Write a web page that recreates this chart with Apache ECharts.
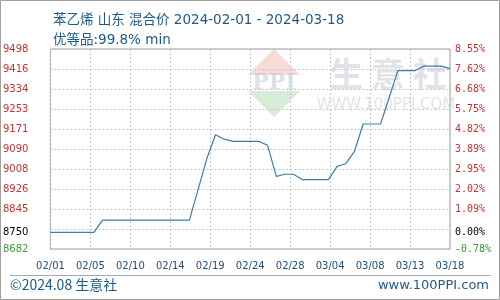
<!DOCTYPE html>
<html><head><meta charset="utf-8">
<script src="https://cdn.jsdelivr.net/npm/echarts@6/dist/echarts.min.js"></script>
<style>html,body{margin:0;padding:0;background:#fff}#c{width:500px;height:300px}</style>
</head><body><div id="c"></div>
<script>
const dates = ['02/01','02/02','02/03','02/04','02/05','02/06','02/07','02/08','02/09','02/10',
  '02/11','02/12','02/13','02/14','02/15','02/16','02/17','02/18','02/19','02/20',
  '02/21','02/22','02/23','02/24','02/25','02/26','02/27','02/28','02/29','03/01',
  '03/02','03/03','03/04','03/05','03/06','03/07','03/08','03/09','03/10','03/11',
  '03/12','03/13','03/14','03/15','03/16','03/17','03/18'];
const prices = [8750,8750,8750,8750,8750,8750,8800,8800,8800,8800,
  8800,8800,8800,8800,8800,8800,8800,8925,9050,9148,
  9130,9121,9121,9121,9121,9105,8978,8987,8987,8965,
  8965,8965,8965,9019,9030,9080,9192,9192,9192,9300,
  9410,9410,9410,9428,9428,9428,9418];
const basePrice = 8750;
const yMin = 8682, yMax = 9498, yStep = 81.6;
const xStep = 4.6;
const titleLines = ['苯乙烯 山东 混合价 2024-02-01 - 2024-03-18', '优等品:99.8% min'];
const footerLeft = '©2024.08 生意社';
const footerRight = 'www.100PPI.com';

const gridTicks = [];
for (let k = 0; k <= 10; k++) gridTicks.push(+(yMin + k * yStep).toFixed(1));
const labelTicks = gridTicks.map((v, i) => i === 1 ? basePrice : v);

const seriesData = prices.map((p, i) => [i, p]);
const txt = '#1d5a88';
function labColor(v) {
  v = Number(v);
  if (Math.abs(v - basePrice) < 1e-6) return '#000';
  return v < basePrice ? '#3a9a3a' : '#c83232';
}

const chart = echarts.init(document.getElementById('c'), null, {renderer: 'canvas'});
chart.setOption({
  animation: false,
  backgroundColor: '#fff',
  title: {
    text: titleLines.join('\n'), left: 48, top: 5,
    textStyle: {fontFamily: '"DejaVu Sans", "Noto Sans CJK SC"', fontSize: 13.5, fontWeight: 'normal', color: txt, lineHeight: 20}
  },
  grid: {left: 50, right: 50, top: 49, bottom: 51, show: true, borderColor: '#9a9a9a', borderWidth: 1, containLabel: false},
  graphic: [
    {type: 'rect', shape: {x: 0.5, y: 0.5, width: 499, height: 299}, style: {fill: 'none', stroke: '#a0a0a0', lineWidth: 1}, z: 0},
    {type: 'line', shape: {x1: 10, y1: 275.5, x2: 491, y2: 275.5}, style: {stroke: '#a8a8a8', lineWidth: 1}},
    {type: 'text', left: 10, top: 278, style: {text: footerLeft, font: '14px "Noto Sans CJK SC"', fill: txt}},
    {type: 'text', right: 11, top: 279, style: {text: footerRight, font: '13px "DejaVu Sans"', fill: txt}},
    {type: 'polygon', shape: {points: [[274, 49], [300, 75], [248, 75]]}, style: {fill: 'rgba(235,165,155,0.4)'}, z: -1, silent: true},
    {type: 'polygon', shape: {points: [[248, 91], [300, 91], [274, 117]]}, style: {fill: 'rgba(155,210,155,0.4)'}, z: -1, silent: true},
    {type: 'text', x: 274, y: 83, style: {text: 'PPI', font: 'bold 22px "DejaVu Serif"', fill: 'rgba(170,190,215,0.45)', align: 'center', verticalAlign: 'middle'}, z: -1, silent: true},
    {type: 'text', x: 388, y: 74, style: {text: '生 意 社', font: 'bold 34px "Noto Sans CJK SC"', fill: 'rgba(200,204,214,0.55)', align: 'center', verticalAlign: 'middle'}, z: -1, silent: true},
    {type: 'text', x: 386, y: 105, style: {text: 'WWW.100PPI.COM', font: '15px "DejaVu Sans"', fill: 'rgba(200,204,214,0.55)', align: 'center', verticalAlign: 'middle'}, z: -1, silent: true}
  ],
  xAxis: {
    type: 'value', min: 0, max: dates.length - 1, interval: xStep,
    axisLine: {show: false}, axisTick: {show: false},
    splitLine: {show: true, lineStyle: {color: '#c4c4c4', type: [2, 2], width: 1}},
    axisLabel: {
      margin: 12, fontSize: 10, fontFamily: 'DejaVu Sans', color: '#1f4e79',
      formatter: v => dates[Math.floor(v + 1e-6)] || ''
    }
  },
  yAxis: [
    {
      type: 'value', min: yMin, max: yMax, position: 'left',
      axisLine: {show: false},
      axisTick: {show: false, customValues: gridTicks},
      splitLine: {show: true, lineStyle: {color: '#c4c4c4', type: [2, 2], width: 1}},
      axisLabel: {
        customValues: labelTicks, margin: 22, fontSize: 10, fontFamily: 'DejaVu Sans',
        formatter: v => String(Math.floor(Number(v) + 1e-6)),
        color: v => labColor(v)
      }
    },
    {
      type: 'value', min: yMin, max: yMax, position: 'right',
      axisLine: {show: false}, axisTick: {show: false, customValues: gridTicks},
      splitLine: {show: false},
      axisLabel: {
        customValues: labelTicks, margin: 5, fontSize: 10, fontFamily: 'DejaVu Sans Mono',
        formatter: v => ((Number(v) - basePrice) / basePrice * 100).toFixed(2) + '%',
        color: v => labColor(v)
      }
    }
  ],
  series: [{
    type: 'line', data: seriesData, yAxisIndex: 0, symbol: 'none', smooth: false,
    lineStyle: {color: '#3a7db2', width: 1.2}, z: 5
  }]
});
</script></body></html>
